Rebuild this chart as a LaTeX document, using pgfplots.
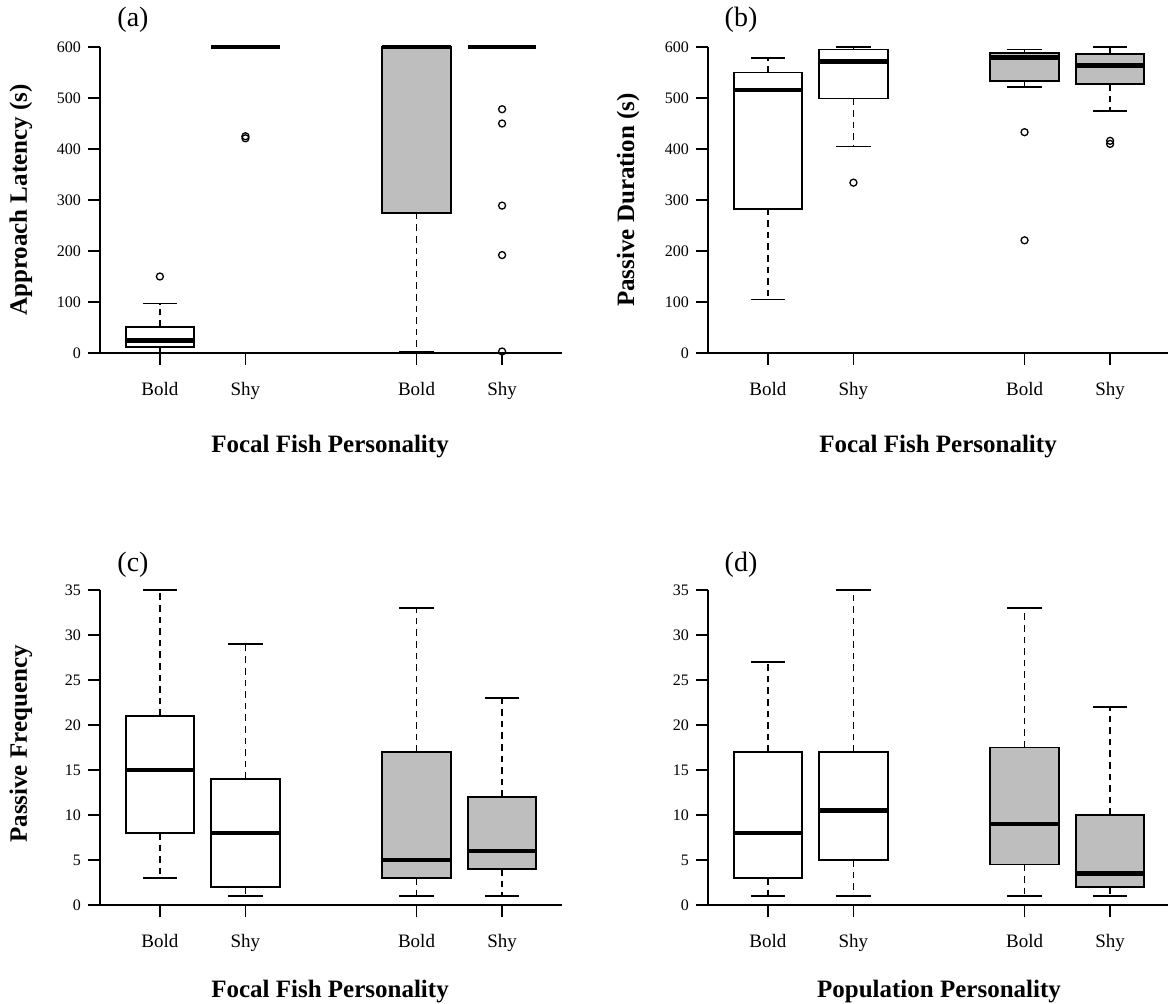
\documentclass[border=0pt]{standalone}
\usepackage{fontspec}
\setmainfont{Liberation Serif}
\usepackage{pgfplots}
\pgfplotsset{compat=1.18}
\definecolor{boxgray}{RGB}{190,190,190}

\pgfplotsset{
  panel/.style={
    scale only axis,
    width=231pt,
    xmin=0.3, xmax=5.7,
    ymin=0,
    axis x line*=bottom, axis y line*=left,
    axis line style={line width=0.75pt, -},
    tick pos=left,
    tick align=outside,
    major tick length=6pt,
    tick style={line width=0.75pt, black},
    xtick={1,2,4,5},
    xticklabels={Bold,Shy,Bold,Shy},
    x tick label style={font=\fontsize{9.5}{11}\selectfont, yshift=-5pt},
    y tick label style={font=\fontsize{8}{9}\selectfont},
    /pgf/number format/assume math mode=true,
    clip=false,
    unbounded coords=jump,
  },
  outl/.style={only marks, mark=o, mark size=1.75pt, mark options={line width=0.65pt, solid, black}},
  manbox/.style={draw=black, line width=0.9pt, fill=#1},
  manmed/.style={draw=black, line width=2.3pt},
  manwhisk/.style={draw=black, line width=0.65pt, dash pattern=on 3.3pt off 2.5pt},
  mancap/.style={draw=black, line width=0.8pt, solid},
}

\begin{document}
\begin{tikzpicture}
\useasboundingbox (0,0) rectangle (584pt,501.5pt);

% ---------------- (a) Approach Latency
\begin{axis}[panel, at={(50pt,325pt)}, anchor=south west, height=153pt,
  ymax=600, ytick={0,100,...,600}]
\addplot[manwhisk] coordinates {(1,11) (1,0) (1,nan) (1,51) (1,97) (1,nan) (4,275) (4,2)};
\addplot[mancap] coordinates {(0.8,0) (1.2,0) (1,nan) (0.8,97) (1.2,97) (1,nan)
  (1.8,600) (2.2,600) (1,nan) (3.8,2) (4.2,2) (1,nan) (3.8,600) (4.2,600) (1,nan) (4.8,600) (5.2,600)};
\addplot[manbox=white] coordinates {(0.6,11) (1.4,11) (1.4,51) (0.6,51)} --cycle;
\addplot[manbox=boxgray] coordinates {(3.6,275) (4.4,275) (4.4,600) (3.6,600)} --cycle;
\addplot[manmed] coordinates {(0.6,25) (1.4,25) (1,nan) (1.6,600) (2.4,600) (1,nan)
  (3.6,600) (4.4,600) (1,nan) (4.6,600) (5.4,600)};
\addplot[outl] coordinates {(1,150) (2,421) (2,425) (5,478) (5,450) (5,289) (5,192) (5,3)};
\end{axis}

% ---------------- (b) Passive Duration
\begin{axis}[panel, at={(354pt,325pt)}, anchor=south west, height=153pt,
  ymax=600, ytick={0,100,...,600}]
\addplot[manwhisk] coordinates {(1,283) (1,105) (1,nan) (1,550) (1,578) (1,nan)
  (2,499) (2,405) (1,nan) (2,595) (2,600) (1,nan)
  (4,533) (4,521) (1,nan) (4,589) (4,595) (1,nan)
  (5,527) (5,474) (1,nan) (5,586) (5,600)};
\addplot[mancap] coordinates {(0.8,105) (1.2,105) (1,nan) (0.8,578) (1.2,578) (1,nan)
  (1.8,405) (2.2,405) (1,nan) (1.8,600) (2.2,600) (1,nan)
  (3.8,521) (4.2,521) (1,nan) (3.8,595) (4.2,595) (1,nan)
  (4.8,474) (5.2,474) (1,nan) (4.8,600) (5.2,600)};
\addplot[manbox=white] coordinates {(0.6,283) (1.4,283) (1.4,550) (0.6,550)} --cycle;
\addplot[manbox=white] coordinates {(1.6,499) (2.4,499) (2.4,595) (1.6,595)} --cycle;
\addplot[manbox=boxgray] coordinates {(3.6,533) (4.4,533) (4.4,589) (3.6,589)} --cycle;
\addplot[manbox=boxgray] coordinates {(4.6,527) (5.4,527) (5.4,586) (4.6,586)} --cycle;
\addplot[manmed] coordinates {(0.6,516) (1.4,516) (1,nan) (1.6,572) (2.4,572) (1,nan)
  (3.6,580) (4.4,580) (1,nan) (4.6,564) (5.4,564)};
\addplot[outl] coordinates {(2,334) (4,433) (4,221) (5,416) (5,410)};
\end{axis}

% ---------------- (c) Passive Frequency
\begin{axis}[panel, at={(50pt,49pt)}, anchor=south west, height=157.5pt,
  ymax=35, ytick={0,5,...,35}]
\addplot[manwhisk] coordinates {(1,8) (1,3) (1,nan) (1,21) (1,35) (1,nan)
  (2,2) (2,1) (1,nan) (2,14) (2,29) (1,nan)
  (4,3) (4,1) (1,nan) (4,17) (4,33) (1,nan)
  (5,4) (5,1) (1,nan) (5,12) (5,23)};
\addplot[mancap] coordinates {(0.8,3) (1.2,3) (1,nan) (0.8,35) (1.2,35) (1,nan)
  (1.8,1) (2.2,1) (1,nan) (1.8,29) (2.2,29) (1,nan)
  (3.8,1) (4.2,1) (1,nan) (3.8,33) (4.2,33) (1,nan)
  (4.8,1) (5.2,1) (1,nan) (4.8,23) (5.2,23)};
\addplot[manbox=white] coordinates {(0.6,8) (1.4,8) (1.4,21) (0.6,21)} --cycle;
\addplot[manbox=white] coordinates {(1.6,2) (2.4,2) (2.4,14) (1.6,14)} --cycle;
\addplot[manbox=boxgray] coordinates {(3.6,3) (4.4,3) (4.4,17) (3.6,17)} --cycle;
\addplot[manbox=boxgray] coordinates {(4.6,4) (5.4,4) (5.4,12) (4.6,12)} --cycle;
\addplot[manmed] coordinates {(0.6,15) (1.4,15) (1,nan) (1.6,8) (2.4,8) (1,nan)
  (3.6,5) (4.4,5) (1,nan) (4.6,6) (5.4,6)};
\end{axis}

% ---------------- (d) Population personality
\begin{axis}[panel, at={(354pt,49pt)}, anchor=south west, height=157.5pt,
  ymax=35, ytick={0,5,...,35}]
\addplot[manwhisk] coordinates {(1,3) (1,1) (1,nan) (1,17) (1,27) (1,nan)
  (2,5) (2,1) (1,nan) (2,17) (2,35) (1,nan)
  (4,4.5) (4,1) (1,nan) (4,17.5) (4,33) (1,nan)
  (5,2) (5,1) (1,nan) (5,10) (5,22)};
\addplot[mancap] coordinates {(0.8,1) (1.2,1) (1,nan) (0.8,27) (1.2,27) (1,nan)
  (1.8,1) (2.2,1) (1,nan) (1.8,35) (2.2,35) (1,nan)
  (3.8,1) (4.2,1) (1,nan) (3.8,33) (4.2,33) (1,nan)
  (4.8,1) (5.2,1) (1,nan) (4.8,22) (5.2,22)};
\addplot[manbox=white] coordinates {(0.6,3) (1.4,3) (1.4,17) (0.6,17)} --cycle;
\addplot[manbox=white] coordinates {(1.6,5) (2.4,5) (2.4,17) (1.6,17)} --cycle;
\addplot[manbox=boxgray] coordinates {(3.6,4.5) (4.4,4.5) (4.4,17.5) (3.6,17.5)} --cycle;
\addplot[manbox=boxgray] coordinates {(4.6,2) (5.4,2) (5.4,10) (4.6,10)} --cycle;
\addplot[manmed] coordinates {(0.6,8) (1.4,8) (1,nan) (1.6,10.5) (2.4,10.5) (1,nan)
  (3.6,9) (4.4,9) (1,nan) (4.6,3.5) (5.4,3.5)};
\end{axis}

% ---------------- texts
\begin{scope}[every node/.style={inner sep=0pt}]
\node[font=\fontsize{14}{16}\selectfont] at (66.5pt,491.5pt) {(a)};
\node[font=\fontsize{14}{16}\selectfont] at (370.5pt,491.5pt) {(b)};
\node[font=\fontsize{14}{16}\selectfont] at (66.5pt,219pt) {(c)};
\node[font=\fontsize{14}{16}\selectfont] at (370.5pt,219pt) {(d)};
\node[font=\fontsize{12.5}{14}\selectfont\bfseries, rotate=90] at (10.5pt,401.5pt) {Approach Latency (s)};
\node[font=\fontsize{12.5}{14}\selectfont\bfseries, rotate=90] at (314pt,401.5pt) {Passive Duration (s)};
\node[font=\fontsize{12.5}{14}\selectfont\bfseries, rotate=90] at (10.5pt,129.5pt) {Passive Frequency};
\node[font=\fontsize{12.5}{14}\selectfont\bfseries, anchor=base] at (165pt,275pt) {Focal Fish Personality};
\node[font=\fontsize{12.5}{14}\selectfont\bfseries, anchor=base] at (469pt,275pt) {Focal Fish Personality};
\node[font=\fontsize{12.5}{14}\selectfont\bfseries, anchor=base] at (165pt,3pt) {Focal Fish Personality};
\node[font=\fontsize{12.5}{14}\selectfont\bfseries, anchor=base] at (469.5pt,3pt) {Population Personality};
\end{scope}
\end{tikzpicture}
\end{document}
